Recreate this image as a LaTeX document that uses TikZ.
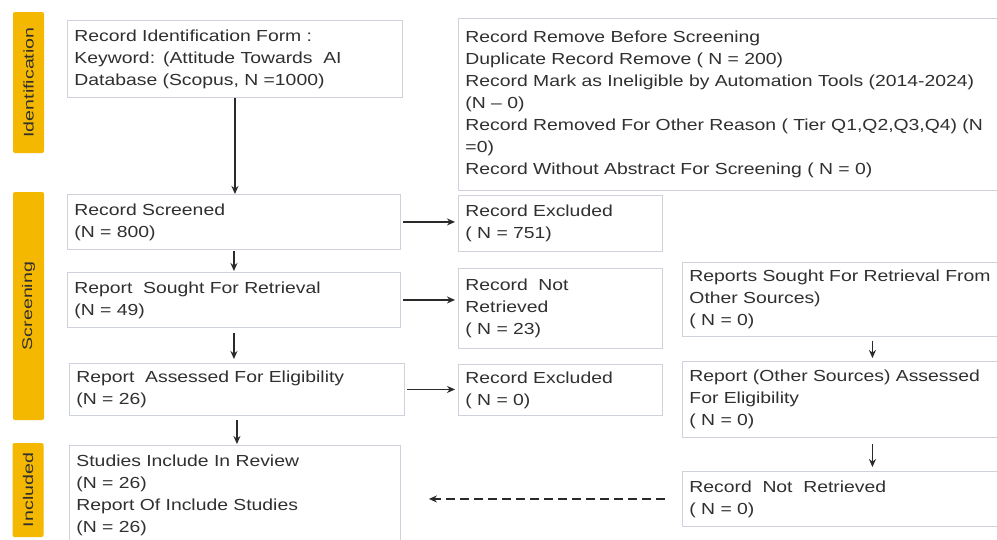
\documentclass[tikz,border=0pt]{standalone}
\usepackage{fontspec}
\setmainfont{Liberation Sans}[FakeStretch=1.21]
\newfontfamily\barfont{Liberation Sans}[FakeStretch=1.4]
\usetikzlibrary{arrows.meta}
\definecolor{boxgray}{HTML}{CDD2DC}
\definecolor{inkgray}{HTML}{303030}
\definecolor{arrowgray}{HTML}{2A2A2A}
\definecolor{stagegold}{HTML}{F5B800}

\begin{document}
\begin{tikzpicture}[x=1pt,y=-1pt,line width=1.9pt,>={Stealth[length=8pt,width=7pt]},
  box/.style={draw=boxgray,line width=0.9pt,fill=white,anchor=north west,align=left,inner xsep=7pt,inner ysep=0pt,text=inkgray,font=\fontsize{16}{22}\selectfont},
  stage/.style={fill=stagegold,rounded corners=2pt,rotate=90,minimum height=31pt,inner sep=0pt,text=inkgray,font=\barfont\fontsize{14}{14}\selectfont},
  flow/.style={->,draw=arrowgray}]
  \fill[white] (0,0) rectangle (997,539);
  \useasboundingbox (0,0) rectangle (997,539);
  \node[stage,minimum width=141pt] (idstage) at (28.5,82.5){Identification};
  \node[stage,minimum width=228pt] (scrstage) at (28.5,306){Screening};
  \node[stage,minimum width=94pt] (incstage) at (28,490){Included};
  \node[box,text width=321pt,minimum height=77pt] (record) at (67,20){Record Identification Form :\\Keyword: (Attitude Towards\ \ AI\\Database (Scopus, N =1000)};
  \node[box,text width=586pt,minimum height=172pt] (removed) at (458,18){Record Remove Before Screening\\Duplicate Record Remove ( N = 200)\\Record Mark as Ineligible by Automation Tools (2014-2024)\\(N -- 0)\\Record Removed For Other Reason ( Tier Q1,Q2,Q3,Q4) (N\\=0)\\Record Without Abstract For Screening ( N = 0)};
  \node[box,text width=319pt,minimum height=55pt] (screened) at (67,194){Record Screened\\(N = 800)};
  \node[box,text width=319pt,minimum height=55pt] (sought) at (67,272){Report\ \ Sought For Retrieval\\(N = 49)};
  \node[box,text width=321pt,minimum height=52pt] (assessed) at (69,363){Report\ \ Assessed For Eligibility\\(N = 26)};
  \node[box,text width=317pt,minimum height=100pt] (included) at (69,445){Studies Include In Review\\(N = 26)\\Report Of Include Studies\\(N = 26)};
  \node[box,text width=190pt,minimum height=56pt] (excluded) at (458,195){Record Excluded\\( N = 751)};
  \node[box,text width=190pt,minimum height=80pt] (notretr) at (458,268){Record\ \ Not\\Retrieved\\( N = 23)};
  \node[box,text width=190pt,minimum height=51pt] (excludedb) at (458,364){Record Excluded\\( N = 0)};
  \node[box,text width=366pt,minimum height=74pt] (othersought) at (682,262){Reports Sought For Retrieval From\\Other Sources)\\( N = 0)};
  \node[box,text width=366pt,minimum height=76pt] (otherassessed) at (682,361){Report (Other Sources) Assessed\\For Eligibility\\( N = 0)};
  \node[box,text width=366pt,minimum height=55pt] (othernotretr) at (682,471){Record\ \ Not\ \ Retrieved\\( N = 0)};
  \draw[flow] (record.south) -- (record.south |- screened.north);
  \draw[flow,shorten <=1pt,shorten >=1pt] (screened.south) -- (screened.south |- sought.north);
  \draw[flow,shorten <=5pt,shorten >=4pt] (sought.south) -- (sought.south |- assessed.north);
  \draw[flow,shorten <=4pt,shorten >=1pt] (assessed.south) -- (assessed.south |- included.north);
  \draw[flow,shorten <=2pt,shorten >=3pt] (screened.east) -- (screened.east -| excluded.west);
  \draw[flow,shorten <=2pt,shorten >=3pt] (sought.east) -- (sought.east -| notretr.west);
  \draw[flow,shorten <=2pt,shorten >=3pt] (assessed.east) -- (assessed.east -| excludedb.west);
  \draw[flow,shorten <=4pt,shorten >=3pt] (othersought.south) -- (otherassessed.north);
  \draw[flow,shorten <=6pt,shorten >=4pt] (otherassessed.south) -- (othernotretr.north);
  \draw[flow,dash pattern=on 9pt off 5pt,shorten <=17pt,shorten >=28pt] (othernotretr.west) -- (othernotretr.west -| included.east);
\end{tikzpicture}
\end{document}
